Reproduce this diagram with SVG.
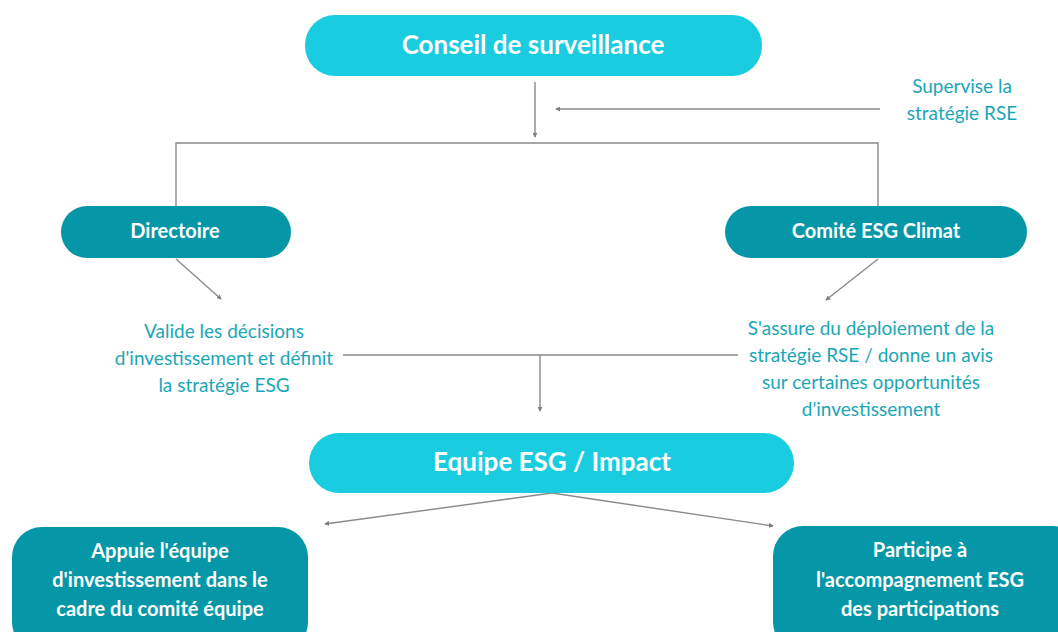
<svg xmlns="http://www.w3.org/2000/svg" width="1058" height="632" viewBox="0 0 1058 632">
<defs>
<marker id="ah" viewBox="0 0 6 6" refX="5" refY="3" markerWidth="5" markerHeight="5" orient="auto" markerUnits="userSpaceOnUse">
<path d="M0,0 L6,3 L0,6 z" fill="#7f7f7f"/>
</marker>
<style>
.light{fill:#19cce0}
.dark{fill:#0597a7}
.tw{font-family:Lato,"Open Sans",sans-serif;font-weight:bold;fill:#ffffff;text-anchor:middle}
.tl{font-family:Lato,"Open Sans",sans-serif;fill:#1ba6b7;font-size:19px;text-anchor:middle}
.ln{fill:none;stroke:#8a8a8a;stroke-width:1.4}
.ar{fill:none;stroke:#8a8a8a;stroke-width:1.4;marker-end:url(#ah)}
</style>
</defs>
<rect width="1058" height="632" fill="#ffffff"/>
<g id="connectors">
<path class="ar" d="M535,82 L535,137"/>
<path class="ar" d="M880,109 L556,109"/>
<path class="ln" d="M176,207 L176,143 L878,143 L878,207"/>
<path class="ar" d="M176,259 L221,299"/>
<path class="ar" d="M878,259 L826,300"/>
<path class="ln" d="M343,355 L738,355"/>
<path class="ar" d="M540,355 L540,411"/>
<path class="ar" d="M552,493 L325,524"/>
<path class="ar" d="M552,493 L773,526"/>
</g>
<g id="conseil">
<rect class="light" x="305" y="15" width="457" height="61" rx="30"/>
<text class="tw" x="533" y="54" font-size="26">Conseil de surveillance</text>
</g>
<g id="supervise">
<text class="tl" x="962" y="93">Supervise la</text>
<text class="tl" x="962" y="120">stratégie RSE</text>
</g>
<g id="directoire">
<rect class="dark" x="61" y="206" width="230" height="52" rx="26"/>
<text class="tw" x="175" y="238" font-size="20">Directoire</text>
</g>
<g id="comite">
<rect class="dark" x="725" y="206" width="302" height="52" rx="26"/>
<text class="tw" x="876" y="238" font-size="20">Comité ESG Climat</text>
</g>
<g id="valide">
<text class="tl" x="224" y="338">Valide les décisions</text>
<text class="tl" x="224" y="365">d'investissement et définit</text>
<text class="tl" x="224" y="392">la stratégie ESG</text>
</g>
<g id="assure">
<text class="tl" x="871" y="335">S'assure du déploiement de la</text>
<text class="tl" x="871" y="362">stratégie RSE / donne un avis</text>
<text class="tl" x="871" y="389">sur certaines opportunités</text>
<text class="tl" x="871" y="416">d'investissement</text>
</g>
<g id="equipe">
<rect class="light" x="309" y="433" width="485" height="60" rx="30"/>
<text class="tw" x="552" y="471" font-size="26">Equipe ESG / Impact</text>
</g>
<g id="appuie">
<rect class="dark" x="12" y="527" width="296" height="125" rx="30"/>
<text class="tw" x="160" y="558" font-size="20">Appuie l'équipe</text>
<text class="tw" x="160" y="587" font-size="20">d'investissement dans le</text>
<text class="tw" x="160" y="616" font-size="20">cadre du comité équipe</text>
</g>
<g id="participe">
<rect class="dark" x="773" y="526" width="310" height="126" rx="30"/>
<text class="tw" x="920" y="557" font-size="20">Participe à</text>
<text class="tw" x="920" y="587" font-size="20">l'accompagnement ESG</text>
<text class="tw" x="920" y="616" font-size="20">des participations</text>
</g>
</svg>
